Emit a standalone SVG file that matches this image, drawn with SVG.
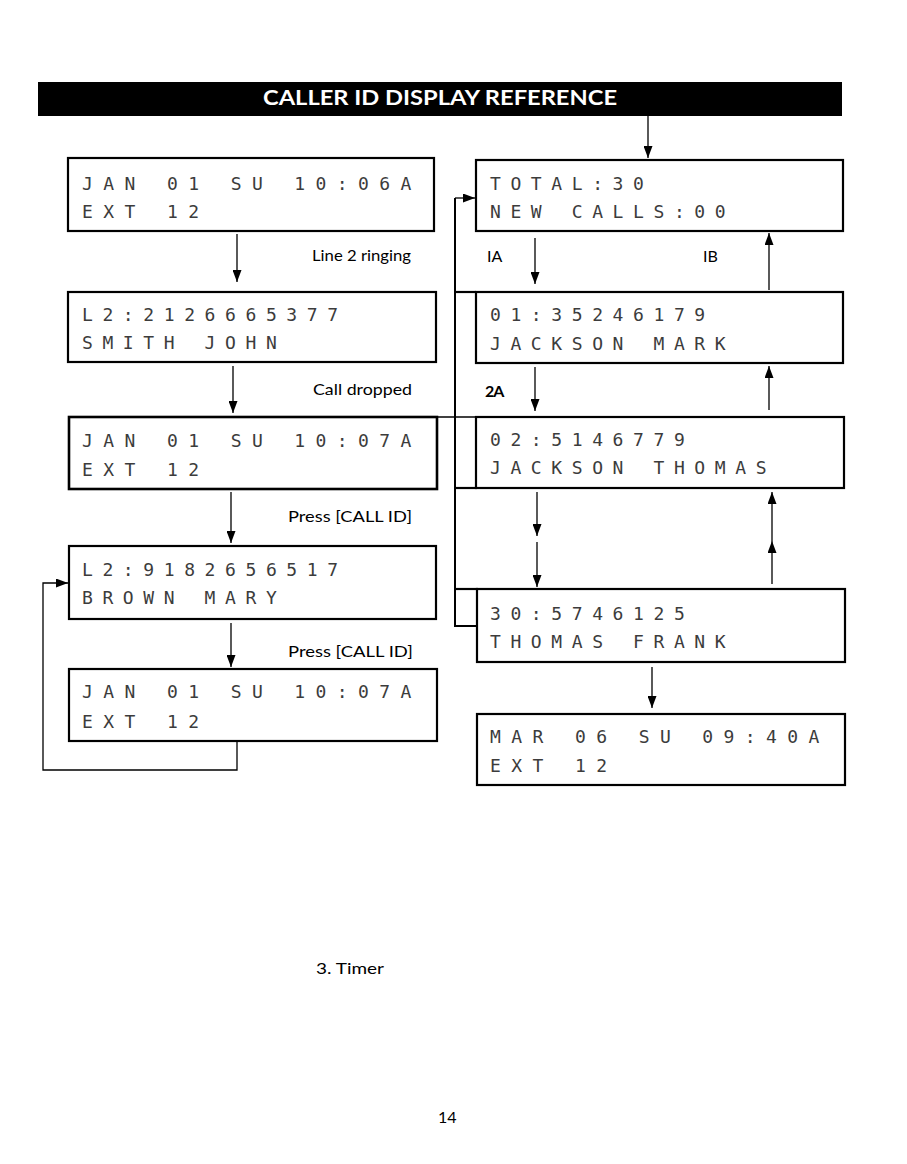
<svg xmlns="http://www.w3.org/2000/svg" width="907" height="1164" viewBox="0 0 907 1164">
<style>
.box{fill:#fff;stroke:#000;stroke-width:2.2}
.lcd{font-family:"DejaVu Sans Mono","Liberation Mono",monospace;font-size:18px;fill:#3c3c3c;letter-spacing:9.6px}
.lcdw{letter-spacing:10.4px}
.lbl{font-family:Lato,"Open Sans","Liberation Sans",sans-serif;font-size:16px;fill:#000}
.c{fill:none;stroke:#000;stroke-width:1.3}
.ca{fill:none;stroke:#000;stroke-width:1.3;marker-end:url(#ah)}
.frame{fill:none;stroke:#000;stroke-width:2.2}
</style>
<defs>
<marker id="ah" viewBox="0 0 12 9" refX="12" refY="4.5" markerWidth="12" markerHeight="9" orient="auto" markerUnits="userSpaceOnUse">
<path d="M0,0 L12,4.5 L0,9 z" fill="#000"/>
</marker>
</defs>
<rect width="907" height="1164" fill="#fff"/>

<g id="title">
<rect x="38" y="82" width="804" height="34" fill="#000"/>
<text x="440" y="105" text-anchor="middle" font-family="Lato,'Open Sans','Liberation Sans',sans-serif" font-weight="bold" font-size="21" fill="#fff" textLength="354" lengthAdjust="spacingAndGlyphs">CALLER ID DISPLAY REFERENCE</text>
</g>

<g id="connectors">
<line class="ca" x1="648" y1="116" x2="648" y2="158"/>
<line class="ca" x1="237" y1="234" x2="237" y2="282"/>
<line class="ca" x1="233" y1="366" x2="233" y2="413"/>
<line class="ca" x1="231" y1="492" x2="231" y2="543"/>
<line class="ca" x1="231" y1="623" x2="231" y2="667"/>
<path class="ca" d="M237,742 L237,770 L43,770 L43,583 L68,583"/>
<path class="c" d="M477,626 L455,626 L455,198" style="stroke-width:2"/>
<path class="ca" d="M455,198 L475,198"/>
<line class="ca" x1="535" y1="238" x2="535" y2="284"/>
<line class="ca" x1="769" y1="290" x2="769" y2="233"/>
<line class="ca" x1="535" y1="367" x2="535" y2="411"/>
<line class="ca" x1="769" y1="410" x2="769" y2="366"/>
<line class="ca" x1="537" y1="492" x2="537" y2="536"/>
<line class="ca" x1="537" y1="542" x2="537" y2="587"/>
<line class="ca" x1="772" y1="584" x2="772" y2="541"/>
<line class="ca" x1="772" y1="541" x2="772" y2="492"/>
<line class="ca" x1="652" y1="667" x2="652" y2="708"/>
<line class="frame" x1="455" y1="292" x2="476" y2="292"/>
<line class="frame" x1="437" y1="417" x2="477" y2="417" style="stroke-width:1.5"/>
<line class="frame" x1="455" y1="488" x2="477" y2="488"/>
<line class="frame" x1="455" y1="589" x2="478" y2="589"/>
</g>

<g id="labels">
<text class="lbl" x="312" y="261" textLength="99" lengthAdjust="spacingAndGlyphs">Line 2 ringing</text>
<text class="lbl" x="313" y="395" textLength="99" lengthAdjust="spacingAndGlyphs">Call dropped</text>
<text class="lbl" x="288" y="522" textLength="124" lengthAdjust="spacingAndGlyphs">Press [CALL ID]</text>
<text class="lbl" x="288" y="657" textLength="125" lengthAdjust="spacingAndGlyphs">Press [CALL ID]</text>
<text class="lbl" x="487" y="262">IA</text>
<text class="lbl" x="703" y="262">IB</text>
<text class="lbl" x="485" y="397" font-weight="bold" letter-spacing="-1">2A</text>
<text class="lbl" x="316" y="974" font-size="17" textLength="68" lengthAdjust="spacingAndGlyphs">3. Timer</text>
<text class="lbl" x="438" y="1123" font-size="17">14</text>
</g>

<g id="box-l1">
<rect class="box" x="68" y="158" width="366" height="73"/>
<text class="lcd lcdw" x="82" y="190">JAN 01 SU 10:06A</text>
<text class="lcd lcdw" x="82" y="218">EXT 12</text>
</g>
<g id="box-l2">
<rect class="box" x="68" y="292" width="368" height="70"/>
<text class="lcd" x="82" y="321">L2:2126665377</text>
<text class="lcd" x="82" y="349">SMITH JOHN</text>
</g>
<g id="box-l3">
<rect class="box" x="69" y="417" width="368" height="72" style="stroke-width:2.6"/>
<text class="lcd lcdw" x="82" y="447">JAN 01 SU 10:07A</text>
<text class="lcd lcdw" x="82" y="476">EXT 12</text>
</g>
<g id="box-l4">
<rect class="box" x="69" y="546" width="367" height="73"/>
<text class="lcd" x="82" y="576">L2:9182656517</text>
<text class="lcd" x="82" y="604">BROWN MARY</text>
</g>
<g id="box-l5">
<rect class="box" x="69" y="669" width="368" height="72"/>
<text class="lcd lcdw" x="82" y="698">JAN 01 SU 10:07A</text>
<text class="lcd lcdw" x="82" y="728">EXT 12</text>
</g>

<g id="box-r1">
<rect class="box" x="476" y="160" width="367" height="71"/>
<text class="lcd" x="490" y="190">TOTAL:30</text>
<text class="lcd" x="490" y="218">NEW CALLS:00</text>
</g>
<g id="box-r2">
<rect class="box" x="476" y="292" width="367" height="71"/>
<text class="lcd" x="490" y="321">01:35246179</text>
<text class="lcd" x="490" y="350">JACKSON MARK</text>
</g>
<g id="box-r3">
<rect class="box" x="476" y="417" width="368" height="71"/>
<text class="lcd" x="490" y="446">02:5146779</text>
<text class="lcd" x="490" y="474">JACKSON THOMAS</text>
</g>
<g id="box-r4">
<rect class="box" x="477" y="589" width="368" height="73"/>
<text class="lcd" x="490" y="620">30:5746125</text>
<text class="lcd" x="490" y="648">THOMAS FRANK</text>
</g>
<g id="box-r5">
<rect class="box" x="477" y="714" width="368" height="71"/>
<text class="lcd lcdw" x="490" y="743">MAR 06 SU 09:40A</text>
<text class="lcd lcdw" x="490" y="772">EXT 12</text>
</g>
</svg>
